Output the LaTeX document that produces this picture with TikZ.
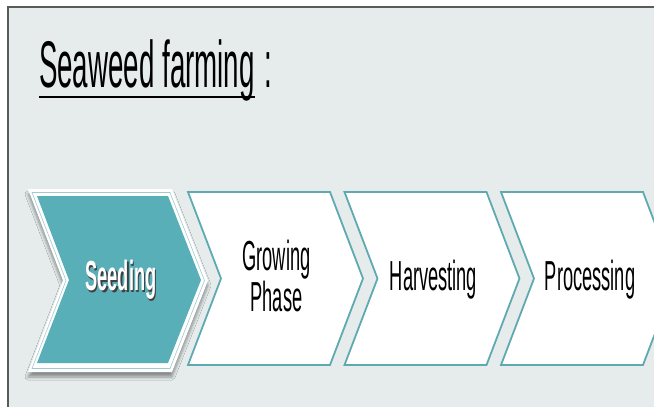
\documentclass[tikz,border=0pt]{standalone}
\usepackage{fontspec}
\setmainfont{Liberation Sans}
\usepackage{tikz}
\usetikzlibrary{positioning}
\usetikzlibrary{shadows.blur}

\definecolor{seabg}{HTML}{E6ECEC}
\definecolor{seateal}{HTML}{58AFB8}
\definecolor{sealine}{HTML}{5FA9B1}
\definecolor{framegray}{HTML}{5A5A5A}

\tikzset{
	stage/.style={draw=sealine, line width=1.8pt, fill=white, line join=miter},
	stagetext/.style={xscale=0.435, font=\fontsize{42}{39}\selectfont, align=center},
	titletext/.style={xscale=0.42, font=\fontsize{66}{70}\selectfont, anchor=base west, inner sep=0pt}
}

\begin{document}
\begin{tikzpicture}[x=1pt, y=-1pt]
		\useasboundingbox (0,0) rectangle (654,407);
		\fill[white] (0,0) rectangle (654,407);
		\fill[seabg] (8,7) rectangle (654,407);
		\draw[framegray, line width=1.5pt] (8,407) -- (8,7) -- (654,7);

		% heading
		\node[titletext] (title) at (39,87) {Seaweed farming};
		\node[titletext] (colon) at ([xshift=10pt]title.base east) {:};
		\draw[line width=2.6pt] ([yshift=-10pt]title.base west) -- ([yshift=-10pt]title.base east);

		% first step, highlighted
		\fill[white, blur shadow={shadow xshift=0pt, shadow yshift=-5pt, shadow blur radius=3pt, shadow blur steps=6, shadow opacity=40}]
			(28,189) -- (172,189) -- (208,280.5) -- (172,372) -- (28,372) -- (63,280.5) -- cycle;
		\draw[sealine!60, line width=0.6pt]
			(32,192.5) -- (170,192.5) -- (204.5,280.5) -- (170,368.5) -- (32,368.5) -- (66,280.5) -- cycle;
		\fill[seateal]
			(37,196) -- (168,196) -- (201,280) -- (168,363) -- (37,363) -- (69,280) -- cycle;
		\node[stagetext, font=\fontsize{42}{46}\selectfont\bfseries, text=black!75] (seedshadow) at (122.5,281.5) {Seeding};
		\node[stagetext, font=\fontsize{42}{46}\selectfont\bfseries, text=white] (seed) at (121,280) {Seeding};

		% remaining steps
		\draw[stage] (188,192) -- ++(142,0) -- ++(33,86.5) -- ++(-33,86.5) -- ++(-142,0) -- ++(33,-86.5) -- cycle;
		\node[stagetext] (grow) at (276.5,276) {Growing\\Phase};

		\draw[stage] (344.5,192) -- ++(142,0) -- ++(33,86.5) -- ++(-33,86.5) -- ++(-142,0) -- ++(33,-86.5) -- cycle;
		\node[stagetext] (harvest) at (433.5,280) {Harvesting};

		\draw[stage] (501,192) -- ++(142,0) -- ++(33,86.5) -- ++(-33,86.5) -- ++(-142,0) -- ++(33,-86.5) -- cycle;
		\node[stagetext] (process) at (590,280) {Processing};

	\end{tikzpicture}
\end{document}
